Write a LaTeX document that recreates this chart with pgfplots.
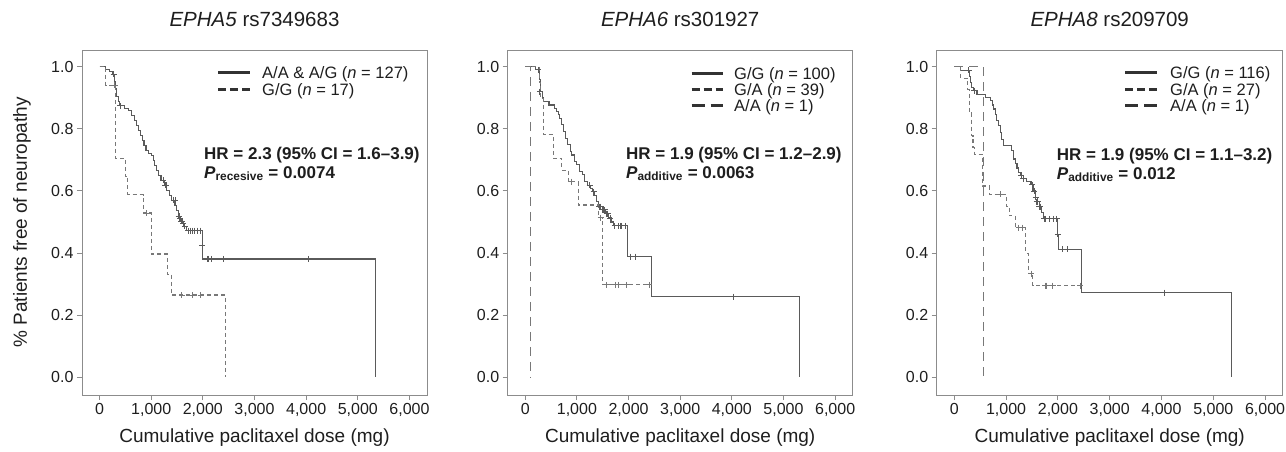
\documentclass[border=0pt]{standalone}
\usepackage{fontspec}
\setmainfont{Liberation Sans}
\usepackage{pgfplots}
\pgfplotsset{compat=1.18}

\definecolor{frame}{RGB}{140,140,140}
\definecolor{kmsolid}{RGB}{90,90,90}
\definecolor{kmdash}{RGB}{120,120,120}
\definecolor{txt}{RGB}{30,30,30}
\definecolor{legline}{RGB}{50,50,50}

\pgfplotsset{
  km/.style={
    scale only axis, width=345pt, height=345pt,
    xmin=-340, xmax=6340, ymin=-0.057, ymax=1.054,
    axis line style={frame, line width=1pt},
    tick style={frame, line width=1pt},
    major tick length=5pt,
    tick align=outside,
    xtick pos=bottom, ytick pos=left,
    xtick={0,1000,2000,3000,4000,5000,6000},
    xticklabels={0,{1,000},{2,000},{3,000},{4,000},{5,000},{6,000}},
    ytick={0,0.2,0.4,0.6,0.8,1},
    yticklabels={0.0,0.2,0.4,0.6,0.8,1.0},
    ticklabel style={font=\fontsize{16}{16}\selectfont, text=txt},
    xlabel={Cumulative paclitaxel dose (mg)},
    xlabel style={at={(axis description cs:0.5,-0.122)}, anchor=center,
      font=\fontsize{19}{20}\selectfont, text=txt},
    title style={at={(axis description cs:0.5,1.072)}, anchor=center,
      font=\fontsize{20.5}{21}\selectfont, text=txt},
  },
  ksolid/.style={const plot, color=kmsolid, line width=1.1pt, mark=none},
  kdash/.style={const plot, color=kmdash, line width=1.1pt, mark=none, dash pattern=on 4pt off 3pt},
  klong/.style={const plot, color=kmdash, line width=1.1pt, mark=none, dash pattern=on 9pt off 6pt},
  kcens/.style={only marks, mark=+, mark size=3pt, color=#1, mark options={line width=0.9pt}},
}

\begin{document}
\begin{tikzpicture}
\useasboundingbox (0pt,0pt) rectangle (1286pt,-451pt);

% ---------- EPHA5 ----------
\begin{axis}[km, at={(82pt,-395pt)}, anchor=south west,
  title={\textit{EPHA5} rs7349683},
  ylabel={\% Patients free of neuropathy},
  ylabel style={at={(axis description cs:-0.174,0.5)}, anchor=center,
    font=\fontsize{19}{20}\selectfont, text=txt}]
\addplot[ksolid] coordinates {(0,1.000) (116,0.992) (200,0.984) (250,0.976) (290,0.952) (310,0.929) (330,0.905) (360,0.889) (390,0.874) (480,0.866) (560,0.858) (620,0.842) (670,0.826) (710,0.810) (750,0.794) (790,0.778) (830,0.762) (860,0.746) (900,0.730) (950,0.722) (1010,0.714) (1040,0.698) (1065,0.682) (1100,0.666) (1140,0.650) (1190,0.634) (1260,0.618) (1300,0.602) (1350,0.586) (1400,0.570) (1460,0.553) (1490,0.536) (1520,0.519) (1570,0.502) (1630,0.487) (1690,0.472) (1985,0.426) (2000,0.381) (5340,0)};
\addplot[kcens=kmsolid] coordinates {(270,0.976) (400,0.874) (1230,0.634) (1270,0.618) (1290,0.618) (1440,0.570) (1460,0.570) (1530,0.519) (1545,0.519) (1555,0.510) (1580,0.502) (1600,0.502) (1620,0.495) (1650,0.487) (1720,0.472) (1760,0.472) (1800,0.472) (1840,0.472) (1900,0.472) (1950,0.472) (1990,0.426) (2080,0.381) (2110,0.381) (2170,0.381) (2400,0.381) (4050,0.381)};
\addplot[kdash] coordinates {(0,1.000) (120,0.941) (310,0.706) (500,0.647) (548,0.588) (852,0.529) (1006,0.397) (1316,0.331) (1393,0.265) (2440,0)};
\addplot[kcens=kmdash] coordinates {(290,0.941) (903,0.529) (1593,0.265) (1794,0.265) (1955,0.265)};
\end{axis}

% ---------- EPHA6 ----------
\begin{axis}[km, at={(507.7pt,-395pt)}, anchor=south west,
  title={\textit{EPHA6} rs301927}]
\addplot[ksolid] coordinates {(0,1.000) (200,0.990) (270,0.960) (290,0.920) (330,0.900) (360,0.888) (460,0.877) (560,0.867) (600,0.856) (640,0.845) (670,0.834) (700,0.813) (740,0.792) (780,0.770) (820,0.749) (870,0.727) (900,0.716) (950,0.695) (1000,0.684) (1050,0.663) (1100,0.652) (1150,0.630) (1210,0.619) (1260,0.608) (1300,0.597) (1330,0.586) (1380,0.565) (1420,0.550) (1500,0.539) (1560,0.527) (1620,0.513) (1660,0.500) (1710,0.488) (1980,0.389) (2445,0.260) (5310,0)};
\addplot[kcens=kmsolid] coordinates {(252,0.990) (284,0.920) (1245,0.619) (1323,0.597) (1430,0.550) (1460,0.550) (1490,0.539) (1520,0.539) (1540,0.539) (1580,0.527) (1600,0.527) (1640,0.513) (1730,0.488) (1800,0.488) (1850,0.488) (1870,0.488) (1935,0.488) (2040,0.389) (2130,0.389) (4040,0.260)};
\addplot[kdash] coordinates {(0,1.000) (270,0.949) (300,0.897) (348,0.782) (542,0.705) (703,0.667) (832,0.630) (1030,0.555) (1415,0.514) (1490,0.298) (2440,0.298)};
\addplot[kcens=kmdash] coordinates {(896,0.630) (1458,0.514) (1580,0.298) (1742,0.298) (1806,0.298) (1968,0.298) (2400,0.298)};
\addplot[klong] coordinates {(0,1.000) (97,0)};
\end{axis}

% ---------- EPHA8 ----------
\begin{axis}[km, at={(936.7pt,-395pt)}, anchor=south west, width=346pt,
  title={\textit{EPHA8} rs209709}]
\addplot[ksolid] coordinates {(0,1.000) (120,0.989) (290,0.970) (308,0.950) (340,0.932) (372,0.923) (437,0.912) (600,0.901) (693,0.891) (730,0.877) (757,0.864) (790,0.846) (820,0.828) (854,0.810) (885,0.789) (918,0.767) (950,0.746) (1100,0.731) (1142,0.703) (1180,0.689) (1210,0.674) (1238,0.660) (1280,0.650) (1330,0.640) (1400,0.630) (1480,0.620) (1520,0.600) (1560,0.580) (1600,0.565) (1640,0.550) (1680,0.530) (1720,0.510) (1985,0.460) (2010,0.412) (2460,0.273) (5347,0)};
\addplot[kcens=kmsolid] coordinates {(277,0.989) (380,0.923) (1290,0.650) (1330,0.640) (1500,0.620) (1545,0.600) (1570,0.580) (1590,0.565) (1610,0.565) (1640,0.550) (1660,0.550) (1740,0.510) (1765,0.510) (1830,0.510) (1910,0.510) (1975,0.510) (2000,0.460) (2086,0.412) (2180,0.412) (4056,0.273)};
\addplot[kdash] coordinates {(0,1.000) (128,0.963) (257,0.926) (290,0.852) (330,0.778) (360,0.741) (390,0.718) (545,0.616) (674,0.589) (1003,0.550) (1060,0.520) (1175,0.482) (1381,0.400) (1430,0.334) (1516,0.295) (2428,0.295)};
\addplot[kcens=kmdash] coordinates {(900,0.589) (1240,0.482) (1323,0.482) (1490,0.334) (1754,0.295) (1786,0.295) (1902,0.295) (2428,0.295)};
\addplot[klong] coordinates {(0,1.000) (566,0)};
\end{axis}

% ---------- legends ----------
\begin{scope}[font=\fontsize{16.5}{17}\selectfont, text=txt]
\draw[legline, line width=2.8pt] (218pt,-72.5pt) -- (250pt,-72.5pt);
\draw[legline, line width=2.8pt, dash pattern=on 8pt off 4pt] (218pt,-89.5pt) -- (250pt,-89.5pt);
\node[anchor=base west, inner sep=0pt] at (262pt,-78.5pt) {A/A \& A/G (\textit{n} = 127)};
\node[anchor=base west, inner sep=0pt] at (262pt,-95.2pt) {G/G (\textit{n} = 17)};

\draw[legline, line width=2.8pt] (691.7pt,-73.5pt) -- (723.3pt,-73.5pt);
\draw[legline, line width=2.8pt, dash pattern=on 8pt off 4pt] (691.7pt,-89.5pt) -- (723.3pt,-89.5pt);
\draw[legline, line width=2.8pt, dash pattern=on 13pt off 6pt] (691.7pt,-105.5pt) -- (723.3pt,-105.5pt);
\node[anchor=base west, inner sep=0pt] at (734pt,-79.6pt) {G/G (\textit{n} = 100)};
\node[anchor=base west, inner sep=0pt] at (734pt,-95.6pt) {G/A (\textit{n} = 39)};
\node[anchor=base west, inner sep=0pt] at (734pt,-111.6pt) {A/A (\textit{n} = 1)};

\draw[legline, line width=2.8pt] (1125pt,-72.5pt) -- (1156.7pt,-72.5pt);
\draw[legline, line width=2.8pt, dash pattern=on 8pt off 4pt] (1125pt,-89.5pt) -- (1156.7pt,-89.5pt);
\draw[legline, line width=2.8pt, dash pattern=on 13pt off 6pt] (1125pt,-105.5pt) -- (1156.7pt,-105.5pt);
\node[anchor=base west, inner sep=0pt] at (1170pt,-78.5pt) {G/G (\textit{n} = 116)};
\node[anchor=base west, inner sep=0pt] at (1170pt,-95.2pt) {G/A (\textit{n} = 27)};
\node[anchor=base west, inner sep=0pt] at (1170pt,-111.6pt) {A/A (\textit{n} = 1)};
\end{scope}

% ---------- statistics ----------
\begin{scope}[font=\fontsize{17}{18}\selectfont\bfseries, text=txt]
\node[anchor=base west, inner sep=0pt] at (204pt,-159.3pt) {HR = 2.3 (95\% CI = 1.6\textendash3.9)};
\node[anchor=base west, inner sep=0pt] at (204pt,-178.3pt) {\textit{P}\textsubscript{recesive} = 0.0074};
\node[anchor=base west, inner sep=0pt] at (626pt,-159.3pt) {HR = 1.9 (95\% CI = 1.2\textendash2.9)};
\node[anchor=base west, inner sep=0pt] at (626pt,-178.3pt) {\textit{P}\textsubscript{additive} = 0.0063};
\node[anchor=base west, inner sep=0pt] at (1056.7pt,-160pt) {HR = 1.9 (95\% CI = 1.1\textendash3.2)};
\node[anchor=base west, inner sep=0pt] at (1056.7pt,-179pt) {\textit{P}\textsubscript{additive} = 0.012};
\end{scope}
\end{tikzpicture}
\end{document}
